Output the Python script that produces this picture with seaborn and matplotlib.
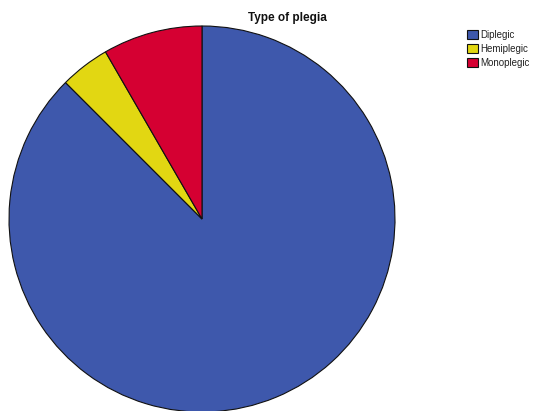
import matplotlib
matplotlib.use("Agg")
import matplotlib.pyplot as plt
import seaborn as sns

# Type of plegia counts
categories = ["Diplegic", "Hemiplegic", "Monoplegic"]
counts = [21, 1, 2]
colors = ["#3E58AC", "#E2D712", "#D50032"]

sns.set_theme(style="white")
plt.rcParams["font.family"] = ["Liberation Sans", "DejaVu Sans"]

fig = plt.figure(figsize=(5.37, 4.11), dpi=100)
fig.patch.set_facecolor("white")

# Axes sized so the unit-radius pie fills the drawing area
ax = fig.add_axes([9 / 537, (411 - 412) / 411, 386 / 537, 386 / 411])
wedges, _ = ax.pie(
    counts,
    colors=colors,
    startangle=90,
    counterclock=False,
    radius=1.0,
    wedgeprops=dict(edgecolor="#111111", linewidth=0.8),
)
ax.set_xlim(-1.0, 1.0)
ax.set_ylim(-1.0, 1.0)
ax.set_aspect("equal")
ax.axis("off")

fig.text(287 / 537, 1 - 18 / 411, "Type of plegia", ha="center", va="center",
         fontsize=8.5, fontweight="bold", color="#111111")

leg = fig.legend(
    wedges, categories,
    loc="upper left",
    bbox_to_anchor=(460 / 537, 1 - 23 / 411),
    frameon=False,
    fontsize=7,
    handlelength=1.15,
    handleheight=1.15,
    handletextpad=0.25,
    labelspacing=0.4,
    borderpad=0.2,
)
for t in leg.get_texts():
    t.set_color("#222222")

fig.savefig("out.png", dpi=100, facecolor="white")
